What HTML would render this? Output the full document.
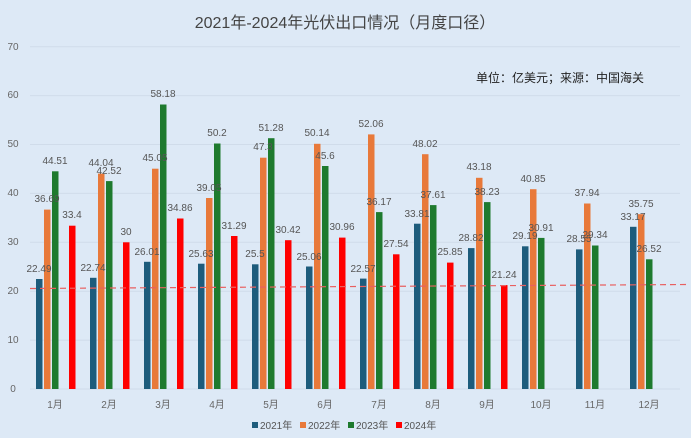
<!DOCTYPE html>
<html><head><meta charset="utf-8"><style>
body{margin:0;background:#dde9f6;}
svg{display:block;font-family:"Liberation Sans","Noto Sans CJK SC",sans-serif;}
.l{font-size:10px;fill:#555;text-anchor:middle}
.y{font-size:10px;fill:#666;text-anchor:middle}
</style></head><body>
<svg width="691" height="438" viewBox="0 0 691 438">
<rect width="691" height="438" fill="#dde9f6"/>
<text x="345" y="28" font-size="16" fill="#444" text-anchor="middle">2021年-2024年光伏出口情况（月度口径）</text>
<text x="560" y="82" font-size="12" fill="#222" text-anchor="middle">单位：亿美元；来源：中国海关</text>
<g stroke="#d0dcea" stroke-width="1">
<line x1="30" x2="680" y1="389" y2="389"/><line x1="30" x2="680" y1="340.1" y2="340.1"/><line x1="30" x2="680" y1="291.2" y2="291.2"/><line x1="30" x2="680" y1="242.3" y2="242.3"/><line x1="30" x2="680" y1="193.4" y2="193.4"/><line x1="30" x2="680" y1="144.5" y2="144.5"/><line x1="30" x2="680" y1="95.6" y2="95.6"/><line x1="30" x2="680" y1="46.7" y2="46.7"/>
</g>
<g class="y"><text class="y" x="13" y="392">0</text><text class="y" x="13" y="343">10</text><text class="y" x="13" y="294">20</text><text class="y" x="13" y="245">30</text><text class="y" x="13" y="196">40</text><text class="y" x="13" y="147">50</text><text class="y" x="13" y="98">60</text><text class="y" x="13" y="50">70</text></g>
<g fill="#1d5c7c">
<rect x="36" y="279" width="6.5" height="110"/><rect x="90" y="277.8" width="6.5" height="111.2"/><rect x="144" y="261.8" width="6.5" height="127.2"/><rect x="198" y="263.7" width="6.5" height="125.3"/><rect x="252" y="264.3" width="6.5" height="124.7"/><rect x="306" y="266.5" width="6.5" height="122.5"/><rect x="360" y="278.6" width="6.5" height="110.4"/><rect x="414" y="223.7" width="6.5" height="165.3"/><rect x="468" y="248.1" width="6.5" height="140.9"/><rect x="522" y="246.3" width="6.5" height="142.7"/><rect x="576" y="249.4" width="6.5" height="139.6"/><rect x="630" y="226.8" width="6.5" height="162.2"/>
</g>
<g fill="#e8793a">
<rect x="44" y="209.6" width="6.5" height="179.4"/><rect x="98" y="173.6" width="6.5" height="215.4"/><rect x="152" y="168.7" width="6.5" height="220.3"/><rect x="206" y="198" width="6.5" height="191"/><rect x="260" y="157.7" width="6.5" height="231.3"/><rect x="314" y="143.8" width="6.5" height="245.2"/><rect x="368" y="134.4" width="6.5" height="254.6"/><rect x="422" y="154.2" width="6.5" height="234.8"/><rect x="476" y="177.8" width="6.5" height="211.2"/><rect x="530" y="189.2" width="6.5" height="199.8"/><rect x="584" y="203.5" width="6.5" height="185.5"/><rect x="638" y="214.2" width="6.5" height="174.8"/>
</g>
<g fill="#1e7a2e">
<rect x="52" y="171.3" width="6.5" height="217.7"/><rect x="106" y="181.1" width="6.5" height="207.9"/><rect x="160" y="104.5" width="6.5" height="284.5"/><rect x="214" y="143.5" width="6.5" height="245.5"/><rect x="268" y="138.2" width="6.5" height="250.8"/><rect x="322" y="166" width="6.5" height="223"/><rect x="376" y="212.1" width="6.5" height="176.9"/><rect x="430" y="205.1" width="6.5" height="183.9"/><rect x="484" y="202.1" width="6.5" height="186.9"/><rect x="538" y="237.9" width="6.5" height="151.1"/><rect x="592" y="245.5" width="6.5" height="143.5"/><rect x="646" y="259.3" width="6.5" height="129.7"/>
</g>
<g fill="#ff0000">
<rect x="69" y="225.7" width="6.5" height="163.3"/><rect x="123" y="242.3" width="6.5" height="146.7"/><rect x="177" y="218.5" width="6.5" height="170.5"/><rect x="231" y="236" width="6.5" height="153"/><rect x="285" y="240.2" width="6.5" height="148.8"/><rect x="339" y="237.6" width="6.5" height="151.4"/><rect x="393" y="254.3" width="6.5" height="134.7"/><rect x="447" y="262.6" width="6.5" height="126.4"/><rect x="501" y="285.1" width="6.5" height="103.9"/>
</g>
<line x1="30" y1="288.5" x2="688" y2="284.5" stroke="#e86060" stroke-width="1.2" stroke-dasharray="6,4"/>
<g class="l">
<text class="l" x="39" y="272">22.49</text><text class="l" x="93" y="271">22.74</text><text class="l" x="147" y="255">26.01</text><text class="l" x="201" y="257">25.63</text><text class="l" x="255" y="257">25.5</text><text class="l" x="309" y="260">25.06</text><text class="l" x="363" y="272">22.57</text><text class="l" x="417" y="217">33.81</text><text class="l" x="471" y="241">28.82</text><text class="l" x="525" y="239">29.19</text><text class="l" x="579" y="242">28.55</text><text class="l" x="633" y="220">33.17</text>
<text class="l" x="47" y="202">36.69</text><text class="l" x="101" y="166">44.04</text><text class="l" x="155" y="161">45.05</text><text class="l" x="209" y="191">39.05</text><text class="l" x="263" y="150">47.3</text><text class="l" x="317" y="136">50.14</text><text class="l" x="371" y="127">52.06</text><text class="l" x="425" y="147">48.02</text><text class="l" x="479" y="170">43.18</text><text class="l" x="533" y="182">40.85</text><text class="l" x="587" y="196">37.94</text><text class="l" x="641" y="207">35.75</text>
<text class="l" x="55" y="164">44.51</text><text class="l" x="109" y="174">42.52</text><text class="l" x="163" y="97">58.18</text><text class="l" x="217" y="136">50.2</text><text class="l" x="271" y="131">51.28</text><text class="l" x="325" y="159">45.6</text><text class="l" x="379" y="205">36.17</text><text class="l" x="433" y="198">37.61</text><text class="l" x="487" y="195">38.23</text><text class="l" x="541" y="231">30.91</text><text class="l" x="595" y="238">29.34</text><text class="l" x="649" y="252">26.52</text>
<text class="l" x="72" y="218">33.4</text><text class="l" x="126" y="235">30</text><text class="l" x="180" y="211">34.86</text><text class="l" x="234" y="229">31.29</text><text class="l" x="288" y="233">30.42</text><text class="l" x="342" y="230">30.96</text><text class="l" x="396" y="247">27.54</text><text class="l" x="450" y="255">25.85</text><text class="l" x="504" y="278">21.24</text>
</g>
<g class="y">
<text class="y" x="55" y="408">1月</text><text class="y" x="109" y="408">2月</text><text class="y" x="163" y="408">3月</text><text class="y" x="217" y="408">4月</text><text class="y" x="271" y="408">5月</text><text class="y" x="325" y="408">6月</text><text class="y" x="379" y="408">7月</text><text class="y" x="433" y="408">8月</text><text class="y" x="487" y="408">9月</text><text class="y" x="541" y="408">10月</text><text class="y" x="595" y="408">11月</text><text class="y" x="649" y="408">12月</text>
</g>
<g font-size="10" fill="#555">
<rect x="252" y="422" width="6" height="6" fill="#1d5c7c"/><text x="260" y="429">2021年</text>
<rect x="300" y="422" width="6" height="6" fill="#e8793a"/><text x="308" y="429">2022年</text>
<rect x="348" y="422" width="6" height="6" fill="#1e7a2e"/><text x="356" y="429">2023年</text>
<rect x="396" y="422" width="6" height="6" fill="#ff0000"/><text x="404" y="429">2024年</text>
</g>
</svg>
</body></html>
